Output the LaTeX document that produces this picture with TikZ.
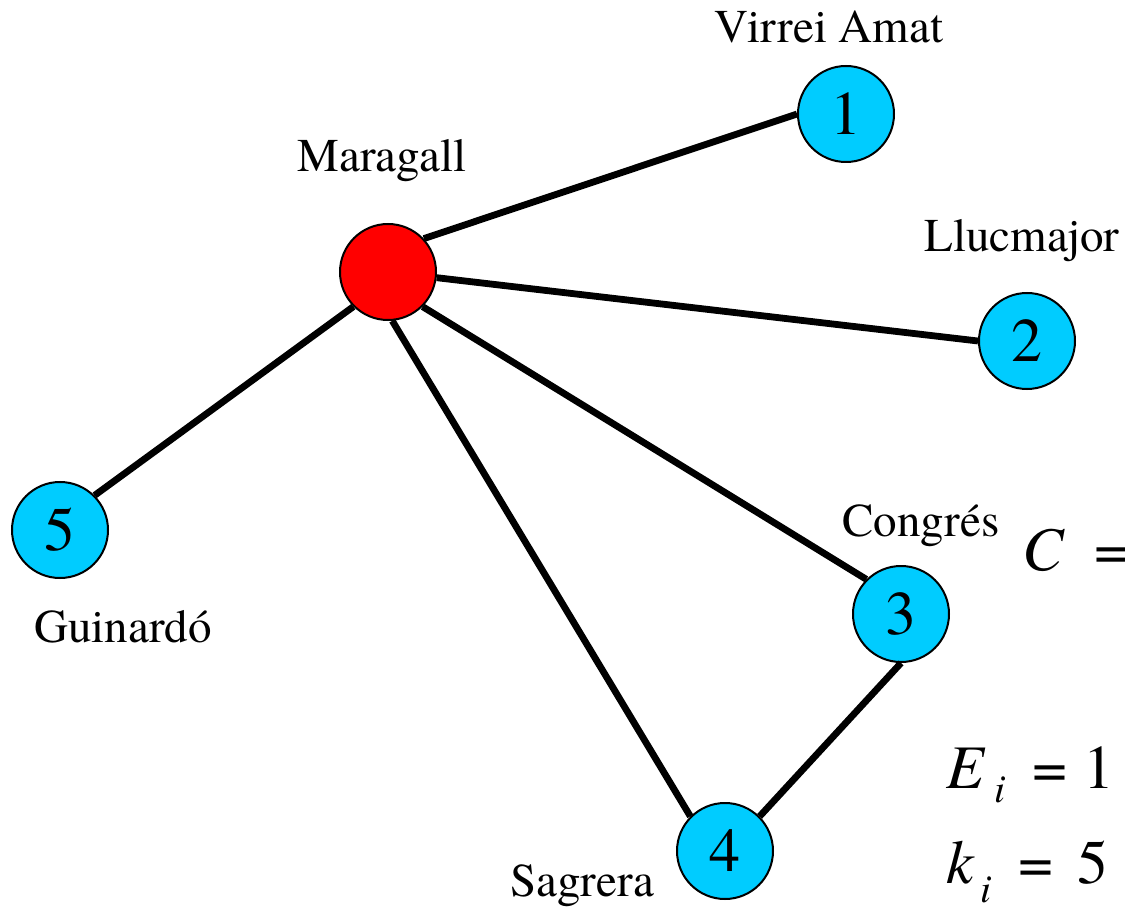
\documentclass[tikz,border=0pt]{standalone}
\usepackage{fontspec}
\IfFontExistsTF{texgyretermes-regular.otf}{%
  \setmainfont{texgyretermes}[Extension=.otf,
    UprightFont=*-regular, ItalicFont=*-italic,
    BoldFont=*-bold, BoldItalicFont=*-bolditalic]%
}{\setmainfont{Liberation Serif}}
\definecolor{nodecyan}{RGB}{0,204,255}
\definecolor{hubred}{RGB}{255,0,0}
\begin{document}
\begin{tikzpicture}[
                x=0.5pt,
                y=-0.5pt,
                station/.style={
                    circle,
                    draw,
                    line width=1pt,
                    fill=nodecyan,
                    minimum size=48pt,
                    inner sep=0pt,
                    font=\fontsize{31}{31}\selectfont
                },
                hub/.style={
                    station,
                    fill=hubred
                },
                label text/.style={
                    anchor=base,
                    inner sep=0pt,
                    font=\fontsize{23.5}{23.5}\selectfont
                },
                formula/.style={
                    anchor=base west,
                    inner sep=0pt,
                    font=\fontsize{31}{31}\selectfont
                },
                line/.style={
                    draw,
                    line width=3.4pt
                }]

                \useasboundingbox (0,0) rectangle (1125,909);

                \node [hub] (maragall) at (388,272) {};
                \node [station] (virrei) at (846,114) {1};
                \node [station] (llucmajor) at (1027,341) {2};
                \node [station] (congres) at (901,614) {3};
                \node [station] (sagrera) at (725,851) {4};
                \node [station] (guinardo) at (60,530) {5};

                \node [label text] (virrei_name) at (829,43) {Virrei Amat};
                \node [label text] (maragall_name) at (382,172) {Maragall};
                \node [label text] (llucmajor_name) at (1022,252) {Llucmajor};
                \node [label text] (congres_name) at (921,536) {Congrés};
                \node [label text] (guinardo_name) at (123,642) {Guinardó};
                \node [label text] (sagrera_name) at (582,896) {Sagrera};

                \node [formula] (clustering) at (1022,570) {\itshape C\upshape\hspace{15.5pt}=};
                \node [formula] (edges) at (946,788) {\itshape E\hspace{5pt}\raisebox{-7pt}{\fontsize{20}{20}\selectfont i}\upshape\hspace{13.5pt}=\hspace{8pt}1};
                \node [formula] (degree) at (946,883) {\itshape k\hspace{3.5pt}\raisebox{-9.5pt}{\fontsize{20}{20}\selectfont i}\upshape\hspace{13pt}=\hspace{12pt}5};

                % connectors meet the circles at their side points
                \draw [line] (maragall.43) -- (virrei.west);
                \draw [line] (maragall) -- (llucmajor.west);
                \draw [line] (maragall.-45) -- (congres.135);
                \draw [line] (maragall.-85) -- (sagrera.135);
                \draw [line] (maragall.225) -- (guinardo.45);
                \draw [line] (congres.south) -- (sagrera.45);

            \end{tikzpicture}
\end{document}
